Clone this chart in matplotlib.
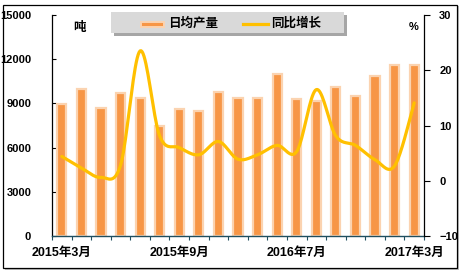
import numpy as np
import matplotlib
matplotlib.use("Agg")
import matplotlib.pyplot as plt
from matplotlib.patches import Rectangle, FancyBboxPatch
from matplotlib.lines import Line2D

plt.rcParams['font.family'] = ['Liberation Sans', 'Noto Sans CJK SC', 'DejaVu Sans']
plt.rcParams['font.weight'] = 'bold'

# Monthly data: average daily output (tonnes) and year-on-year growth (%)
tick_labels = ['2015年3月', '', '', '', '', '', '2015年9月', '', '', '', '', '',
               '2016年7月', '', '', '', '', '', '2017年3月']
daily_output = [8950, 10000, 8680, 9730, 9390, 7480, 8630, 8480, 9770, 9390,
                9390, 11020, 9320, 9160, 10110, 9500, 10890, 11630, 11630]
yoy_growth = [4.4, 2.3, 0.6, 2.8, 23.5, 8.1, 6.0, 4.7, 7.1, 3.9,
              4.7, 6.4, 5.3, 16.5, 8.1, 6.4, 3.8, 2.7, 14.1]

BAR_DARK = '#F79646'
BAR_LIGHT = '#FBD3B0'
LINE_COL = '#FFC000'

W, H = 464, 276
fig = plt.figure(figsize=(W / 100, H / 100), dpi=100)


def fx(px):
    return px / W


def fy(py):
    return 1 - py / H


# outer chart frame with a light shadow
fig.patches.append(Rectangle((fx(5), fy(270)), fx(454) - fx(0), fy(0) - fy(264),
                             transform=fig.transFigure, facecolor='#BFBFBF',
                             edgecolor='none', zorder=0))
fig.patches.append(Rectangle((fx(3), fy(268)), fx(454) - fx(0), fy(0) - fy(263),
                             transform=fig.transFigure, facecolor='white',
                             edgecolor='black', linewidth=0.9, zorder=1))

ax = fig.add_axes([fx(52), fy(236), fx(424) - fx(52), fy(15) - fy(236)])
ax.set_zorder(2)
ax.patch.set_alpha(0)

x = np.arange(len(daily_output))
ax.bar(x, daily_output, width=0.47, color=BAR_DARK, edgecolor=BAR_LIGHT,
       linewidth=1.6, zorder=2)
ax.set_xlim(-0.5, len(x) - 0.5)
ax.set_ylim(0, 15000)
ax.set_yticks(np.arange(0, 15001, 3000))
ax.tick_params(axis='y', direction='in', length=3, width=0.8, pad=15,
               labelsize=8)
ax.set_xticks(x)
ax.set_xticklabels(tick_labels, fontsize=9)
ax.tick_params(axis='x', length=0, pad=8)
ax.set_xticks(np.arange(-0.5, len(x), 1), minor=True)
ax.tick_params(axis='x', which='minor', direction='out', length=3,
               width=0.8, color='#1F4E5F')
for s in ['top', 'right']:
    ax.spines[s].set_visible(False)
ax.spines['bottom'].set_color('#1F4E5F')
ax.spines['bottom'].set_linewidth(1.0)
ax.spines['left'].set_linewidth(0.9)
for lab in ax.get_yticklabels() + ax.get_xticklabels():
    lab.set_fontweight('bold')

ax2 = ax.twinx()
ax2.set_ylim(-10, 30)
ax2.set_yticks([-10, 0, 10, 20, 30])
ax2.tick_params(axis='y', direction='out', length=4, width=0.8, pad=7,
                labelsize=8)
for s in ['top', 'left', 'bottom']:
    ax2.spines[s].set_visible(False)
ax2.spines['right'].set_linewidth(0.9)
for lab in ax2.get_yticklabels():
    lab.set_fontweight('bold')


def smooth(xs, ys, n=20):
    """Catmull-Rom curve through the given points."""
    xs = np.asarray(xs, float)
    ys = np.asarray(ys, float)
    px = np.concatenate([[xs[0]], xs, [xs[-1]]])
    py = np.concatenate([[ys[0]], ys, [ys[-1]]])
    t = np.linspace(0, 1, n, endpoint=False)
    out_x, out_y = [], []
    for i in range(1, len(px) - 2):
        for arr, out in ((px, out_x), (py, out_y)):
            p0, p1, p2, p3 = arr[i - 1], arr[i], arr[i + 1], arr[i + 2]
            out.extend(0.5 * (2 * p1 + (-p0 + p2) * t
                              + (2 * p0 - 5 * p1 + 4 * p2 - p3) * t ** 2
                              + (-p0 + 3 * p1 - 3 * p2 + p3) * t ** 3))
    out_x.append(xs[-1])
    out_y.append(ys[-1])
    return np.array(out_x), np.array(out_y)


sx, sy = smooth(x, yoy_growth)
ax2.plot(sx, sy, color=LINE_COL, linewidth=2.3, solid_capstyle='round',
         zorder=3)

# unit labels
fig.text(fx(79), fy(27), '吨', ha='center', va='center', fontsize=9,
         fontweight='bold', family=['Noto Sans CJK SC'])
fig.text(fx(414), fy(27), '%', ha='center', va='center', fontsize=8,
         fontweight='bold')

# legend box
fig.patches.append(Rectangle((fx(114), fy(36)), fx(233), fy(0) - fy(21),
                             transform=fig.transFigure, facecolor='#A6A6A6',
                             edgecolor='none', zorder=3))
fig.patches.append(Rectangle((fx(111), fy(33)), fx(233), fy(0) - fy(21),
                             transform=fig.transFigure, facecolor='#D9D9D9',
                             edgecolor='none', zorder=4))
fig.patches.append(Rectangle((fx(141), fy(26.5)), fx(23), fy(0) - fy(5),
                             transform=fig.transFigure, facecolor=BAR_DARK,
                             edgecolor=BAR_LIGHT, linewidth=1.4, zorder=5))
fig.text(fx(168), fy(23.5), '日均产量', ha='left', va='center', fontsize=9,
         fontweight='bold', family=['Noto Sans CJK SC'], zorder=5)
fig.lines.append(Line2D([fx(243), fx(268)], [fy(23.5), fy(23.5)],
                        transform=fig.transFigure, color=LINE_COL,
                        linewidth=2.3, zorder=5))
fig.text(fx(271), fy(23.5), '同比增长', ha='left', va='center', fontsize=9,
         fontweight='bold', family=['Noto Sans CJK SC'], zorder=5)

fig.savefig('out.png', dpi=100)
